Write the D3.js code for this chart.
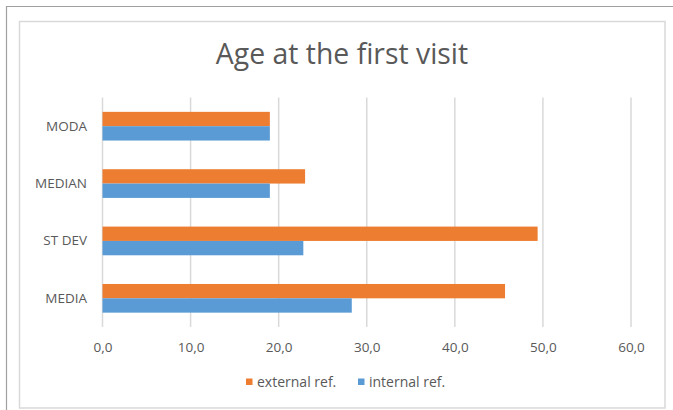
<!DOCTYPE html>
<html><head><meta charset="utf-8">
<script src="https://cdn.jsdelivr.net/npm/d3@7"></script>
<style>
html,body{margin:0;padding:0;background:#fff;}
svg{display:block;font-family:"Open Sans",sans-serif;}
</style></head>
<body>
<svg id="c" width="673" height="410"></svg>
<script>
const categories = ["MODA", "MEDIAN", "ST DEV", "MEDIA"];
const externalRef = [19.0, 23.0, 49.4, 45.7];
const internalRef = [19.0, 19.0, 22.8, 28.3];
const seriesNames = ["external ref.", "internal ref."];
const xTicks = [0, 10, 20, 30, 40, 50, 60];
const title = "Age at the first visit";

const colors = ["#ED7D31", "#5B9BD5"];
const svg = d3.select("#c");

// frames
svg.append("path").attr("d","M6.5,410 V6.5 H673").attr("fill","none").attr("stroke","#a0a0a0").attr("stroke-width",1.2);
svg.append("rect").attr("x",19.5).attr("y",21.5).attr("width",645.5).attr("height",386.5)
  .attr("fill","#fff").attr("stroke","#d9d9d9").attr("stroke-width",1.5);

const m = {left:102.5, right:631, top:97.5, bottom:327};
const x = d3.scaleLinear().domain([0,60]).range([m.left, m.right]);
const y = d3.scaleBand().domain(categories).range([m.top, m.bottom]).paddingInner(0.5).paddingOuter(0.25);

// gridlines
svg.append("g").selectAll("line").data(xTicks).join("line")
  .attr("x1",d=>x(d)).attr("x2",d=>x(d)).attr("y1",m.top).attr("y2",m.bottom)
  .attr("stroke","#d9d9d9").attr("stroke-width",1.5);

// x axis labels
const xAxis = d3.axisBottom(x).tickValues(xTicks).tickSize(0).tickPadding(0)
  .tickFormat(d => d3.format(".1f")(d).replace(".", ","));
const gx = svg.append("g").attr("transform",`translate(0,${m.bottom+15})`).call(xAxis);
gx.select(".domain").remove();
gx.selectAll("text").attr("fill","#595959").attr("font-size","13.5px").attr("font-family","Open Sans, sans-serif").attr("dy","0.71em");

// y axis labels
const yAxis = d3.axisLeft(y).tickSize(0).tickPadding(15.5);
const gy = svg.append("g").attr("transform",`translate(${m.left},0)`).call(yAxis);
gy.select(".domain").remove();
gy.selectAll("text").attr("fill","#595959").attr("font-size","13.5px").attr("font-family","Open Sans, sans-serif");

// bars
const inner = d3.scaleBand().domain([0,1]).range([0, y.bandwidth()]);
const data = categories.map((c,i)=>({c, vals:[externalRef[i], internalRef[i]]}));
const gb = svg.append("g");
data.forEach(d=>{
  d.vals.forEach((v,si)=>{
    gb.append("rect").attr("x",x(0)).attr("y",y(d.c)+inner(si))
      .attr("width",x(v)-x(0)).attr("height",inner.bandwidth())
      .attr("fill",colors[si]);
  });
});

// title
svg.append("text").attr("x",342).attr("y",64).attr("text-anchor","middle")
  .attr("fill","#595959").attr("font-size","28.4px").text(title);

// legend
const lg = svg.append("g").attr("font-size","14px").attr("fill","#595959");
const lx = [246, 358];
seriesNames.forEach((s,i)=>{
  lg.append("rect").attr("x",lx[i]).attr("y",378.5).attr("width",6.5).attr("height",6.5).attr("fill",colors[i]);
  lg.append("text").attr("x",lx[i]+11).attr("y",382).attr("dy","0.35em").attr("fill","#595959").text(s);
});
</script>
</body></html>
